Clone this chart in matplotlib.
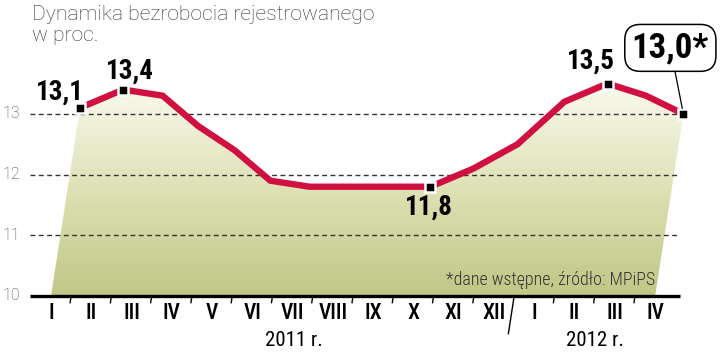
"""Dynamika bezrobocia rejestrowanego - wykres liniowy z gradientem"""
import numpy as np
import matplotlib
matplotlib.use("Agg")
import matplotlib.pyplot as plt
import matplotlib.transforms as mtransforms
from matplotlib.colors import LinearSegmentedColormap

# dane
months = ["I", "II", "III", "IV", "V", "VI", "VII", "VIII", "IX", "X", "XI", "XII",
          "I", "II", "III", "IV"]
values = [13.1, 13.4, 13.3, 12.8, 12.4, 11.9, 11.8, 11.8, 11.8, 11.8, 12.1, 12.5,
          13.2, 13.5, 13.3, 13.0]
years = ["2011 r.", "2012 r."]
year_pos = [6.03, 13.5]
marked = [0, 1, 9, 13, 15]
marked_labels = ["13,1", "13,4", "11,8", "13,5", "13,0*"]
yticks = [10, 11, 12, 13]

NARROW = ["Roboto Condensed", "DejaVu Sans"]
LIGHT = ["Roboto", "DejaVu Sans"]
RED = "#cf1041"

fig = plt.figure(figsize=(7.2, 3.55), dpi=100)
ax = fig.add_axes([0, 0.1662, 1, 0.8338])
ax.set_xlim(-1.266, 16.61)
ax.set_ylim(10, 14.876)
ax.axis("off")

# pochylenie ("3D") - x' = x + s*(y-10)
s = 0.2334
shear = (mtransforms.Affine2D().translate(0, -10).skew(np.arctan(s), 0)
         .translate(0, 10) + ax.transData)

x = np.arange(len(values))

# wypelnienie z gradientem
poly = ax.fill_between(x, 10, values, transform=shear, color="none", lw=0)
cmap = LinearSegmentedColormap.from_list("g", ["#c0c786", "#dfe2b6", "#fbfbf2"])
grad = np.linspace(0, 1, 256).reshape(-1, 1)
im = ax.imshow(grad, cmap=cmap, aspect="auto", origin="lower",
               extent=[-1, 17, 10, 13.6], zorder=1)
im.set_clip_path(poly.get_paths()[0], transform=shear)

# siatka
for yv in yticks[1:]:
    ax.plot([-0.52, 15.62], [yv, yv], color="#333333", lw=1, ls=(0, (3.5, 2.5)), zorder=2)
for yv in yticks:
    ax.text(-0.77, yv, str(yv), ha="right", va="center", fontsize=11.5,
            color="#444444", family=LIGHT, fontweight="light")

# os X
ax.plot([-0.52, 15.62], [10, 10], color="black", lw=2.4, zorder=5, clip_on=False,
        solid_capstyle="butt")
for t in x[:-1] + 0.5:
    if t == 11.5:
        ax.plot([t, t], [10, 9.38], transform=shear, color="black", lw=1, clip_on=False)
    else:
        ax.plot([t, t], [10, 9.89], transform=shear, color="black", lw=1, clip_on=False)
for i, m in enumerate(months):
    ax.text(i, 9.72, m, ha="center", va="center", fontsize=15.5, family=NARROW,
            fontweight="medium")
for xp, yl in zip(year_pos, years):
    ax.text(xp, 9.26, yl, ha="center", va="center", fontsize=15, family=NARROW)

# linia
ax.plot(x, values, transform=shear, color=RED, lw=4.6, zorder=6,
        solid_joinstyle="miter", clip_on=False)
mx = [x[i] for i in marked]
my = [values[i] for i in marked]
ax.plot(mx, my, transform=shear, ls="none", marker="s", ms=7, mfc="black",
        mec="white", mew=1.8, zorder=7, clip_on=False)

offsets = [(-20, 16), (7, 18), (-1, -20), (-17, 22)]
for i, lab, off in zip(marked[:-1], marked_labels[:-1], offsets):
    ax.annotate(lab, xy=(x[i], values[i]), xycoords=shear, xytext=off,
                textcoords="offset pixels", ha="center", va="center",
                fontsize=19.5, fontweight="bold", family=NARROW, zorder=8)

ax.annotate(marked_labels[-1], xy=(x[-1], values[-1]), xycoords=shear,
            xytext=(-13, 66), textcoords="offset pixels", ha="center", va="center",
            fontsize=25, fontweight="bold", family=NARROW, zorder=8,
            bbox=dict(boxstyle="round,pad=0.2,rounding_size=0.45", fc="white",
                      ec="black", lw=1.1),
            arrowprops=dict(arrowstyle="-", color="black", lw=0.9,
                            shrinkA=0, shrinkB=4))

# tytul i zrodlo
fig.text(0.044, 0.985, "Dynamika bezrobocia rejestrowanego\nw proc.", ha="left",
         va="top", fontsize=15.2, color="#333333", linespacing=1.1,
         family=LIGHT, fontweight="light")
ax.text(15.0, 10.26, "*dane wstępne, źródło: MPiPS", ha="right", va="center",
        fontsize=13, color="#333333", family=NARROW, fontweight="light", zorder=4)

fig.savefig("out.png", dpi=100)
